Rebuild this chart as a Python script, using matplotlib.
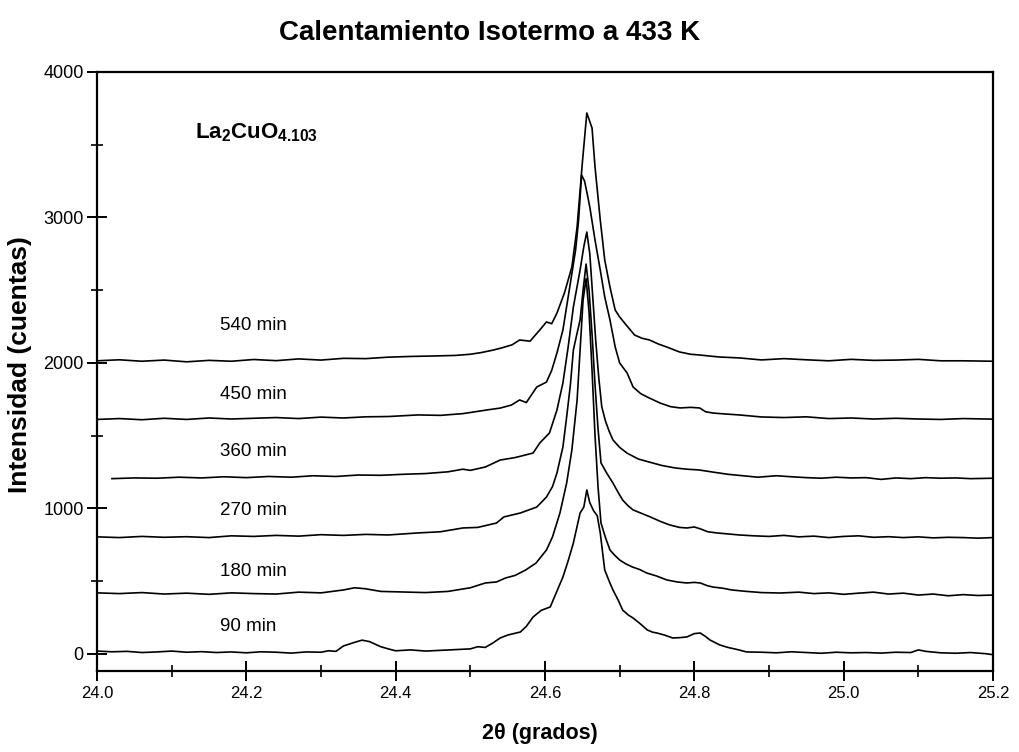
import matplotlib
matplotlib.use('Agg')
import matplotlib.pyplot as plt
from matplotlib.ticker import MultipleLocator, FormatStrFormatter

plt.rcParams['font.family'] = ['Liberation Sans', 'DejaVu Sans']
plt.rcParams['mathtext.fontset'] = 'custom'
plt.rcParams['mathtext.rm'] = 'Liberation Sans'
plt.rcParams['mathtext.bf'] = 'Liberation Sans:bold'

title = "Calentamiento Isotermo a 433 K"
xlabel = "2θ (grados)"
ylabel = "Intensidad (cuentas)"
compound = r"$\mathbf{La_2CuO_{4.103}}$"

series_labels = ["90 min", "180 min", "270 min", "360 min", "450 min", "540 min"]
label_y = [186, 570, 983, 1395, 1780, 2261]

x90 = [24.00, 24.02, 24.04, 24.06, 24.08, 24.10, 24.12, 24.14, 24.16, 24.18, 24.20, 24.22, 24.24, 24.26,
       24.28, 24.30, 24.31, 24.32, 24.33, 24.345, 24.355, 24.365, 24.38, 24.39, 24.40, 24.42, 24.44, 24.46,
       24.48, 24.50, 24.51, 24.52, 24.53, 24.54, 24.55, 24.567, 24.575, 24.584, 24.595, 24.607, 24.615,
       24.624, 24.631, 24.638, 24.647, 24.652, 24.656, 24.660, 24.665, 24.670, 24.674, 24.680, 24.686,
       24.691, 24.698, 24.704, 24.711, 24.718, 24.727, 24.737, 24.744, 24.750, 24.760, 24.771, 24.780,
       24.790, 24.800, 24.808, 24.815, 24.821, 24.834, 24.845, 24.858, 24.870, 24.89, 24.91, 24.93, 24.95,
       24.97, 24.99, 25.01, 25.03, 25.05, 25.07, 25.09, 25.10, 25.11, 25.13, 25.15, 25.17, 25.19, 25.20]
y90 = [20, 15, 18, 10, 14, 20, 12, 16, 10, 14, 8, 15, 12, 6,
       14, 12, 22, 18, 55, 80, 95, 85, 50, 35, 22, 28, 20, 25,
       30, 35, 50, 45, 75, 110, 130, 151, 190, 254, 300, 323, 420,
       529, 640, 763, 969, 1010, 1127, 1040, 985, 950, 832, 577, 500,
       440, 370, 302, 270, 247, 210, 165, 150, 144, 130, 110, 112,
       117, 140, 144, 120, 96, 62, 45, 30, 14, 12, 8, 15, 10,
       5, 12, 8, 10, 6, 12, 10, 28, 18, 8, 5, 10, 2, -5]

x180 = [24.00, 24.03, 24.06, 24.09, 24.12, 24.15, 24.18, 24.21, 24.24, 24.27, 24.30, 24.33, 24.345, 24.36,
        24.38, 24.41, 24.44, 24.47, 24.50, 24.52, 24.535, 24.547, 24.56, 24.574, 24.588, 24.602, 24.610,
        24.620, 24.629, 24.636, 24.643, 24.647, 24.651, 24.655, 24.659, 24.663, 24.667, 24.671, 24.675,
        24.681, 24.687, 24.693, 24.700, 24.708, 24.717, 24.727, 24.736, 24.750, 24.763, 24.777, 24.790,
        24.800, 24.808, 24.817, 24.825, 24.838, 24.850, 24.87, 24.89, 24.915, 24.94, 24.96, 24.98, 25.00,
        25.02, 25.04, 25.06, 25.08, 25.10, 25.12, 25.14, 25.16, 25.18, 25.20]
y180 = [420, 415, 422, 412, 418, 410, 420, 415, 412, 425, 420, 440, 455, 448,
        430, 426, 422, 430, 455, 488, 495, 522, 540, 577, 625, 715, 804,
        969, 1175, 1402, 1746, 2089, 2433, 2580, 2350, 1950, 1500, 1150, 900,
        800, 715, 680, 646, 620, 598, 580, 557, 535, 509, 495, 488,
        492, 488, 470, 460, 452, 440, 430, 422, 419, 425, 415, 420, 410,
        418, 425, 412, 418, 405, 412, 400, 408, 402, 405]

x270 = [24.00, 24.03, 24.06, 24.09, 24.12, 24.15, 24.18, 24.21, 24.24, 24.27, 24.30, 24.33, 24.36, 24.39,
        24.43, 24.46, 24.49, 24.51, 24.535, 24.545, 24.567, 24.589, 24.602, 24.610, 24.616, 24.624, 24.629,
        24.634, 24.638, 24.643, 24.647, 24.651, 24.655, 24.659, 24.663, 24.667, 24.671, 24.675, 24.683,
        24.691, 24.698, 24.704, 24.711, 24.718, 24.730, 24.741, 24.755, 24.767, 24.780, 24.790, 24.800,
        24.808, 24.818, 24.830, 24.845, 24.86, 24.88, 24.90, 24.92, 24.94, 24.96, 24.98, 25.00, 25.02,
        25.04, 25.06, 25.08, 25.10, 25.12, 25.14, 25.16, 25.18, 25.20]
y270 = [805, 800, 808, 802, 806, 800, 812, 808, 815, 810, 820, 815, 822, 818,
        832, 840, 866, 870, 900, 942, 969, 1010, 1079, 1150, 1244, 1423, 1629,
        1850, 2089, 2206, 2296, 2500, 2680, 2500, 2200, 1850, 1550, 1313, 1240,
        1175, 1110, 1058, 1020, 990, 965, 942, 910, 887, 870, 866, 873,
        860, 840, 832, 825, 818, 812, 808, 815, 805, 810, 800, 808, 812,
        802, 806, 800, 805, 798, 802, 800, 796, 800]

x360 = [24.02, 24.05, 24.08, 24.11, 24.14, 24.17, 24.20, 24.23, 24.26, 24.29, 24.32, 24.35, 24.38, 24.41,
        24.44, 24.47, 24.49, 24.50, 24.52, 24.54, 24.56, 24.584, 24.593, 24.606, 24.616, 24.624, 24.631,
        24.638, 24.647, 24.652, 24.656, 24.660, 24.664, 24.668, 24.672, 24.676, 24.681, 24.686, 24.691,
        24.700, 24.710, 24.725, 24.739, 24.757, 24.775, 24.790, 24.806, 24.825, 24.845, 24.865, 24.885,
        24.91, 24.93, 24.95, 24.97, 24.99, 25.01, 25.03, 25.05, 25.07, 25.09, 25.11, 25.13, 25.15, 25.17, 25.20]
y360 = [1205, 1210, 1208, 1215, 1210, 1218, 1212, 1220, 1215, 1225, 1220, 1230, 1228, 1235,
        1240, 1252, 1270, 1262, 1285, 1333, 1350, 1381, 1450, 1519, 1677, 1863, 2110,
        2385, 2639, 2800, 2900, 2750, 2450, 2150, 1900, 1700, 1600, 1530, 1471,
        1420, 1380, 1340, 1320, 1295, 1278, 1270, 1265, 1250, 1235, 1225, 1215,
        1225, 1218, 1212, 1208, 1215, 1210, 1212, 1200, 1210, 1205, 1212, 1208, 1210, 1205, 1208]

x450 = [24.00, 24.03, 24.06, 24.09, 24.12, 24.15, 24.18, 24.21, 24.24, 24.27, 24.30, 24.33, 24.36, 24.39,
        24.43, 24.46, 24.49, 24.522, 24.54, 24.555, 24.566, 24.575, 24.589, 24.602, 24.609, 24.616, 24.624,
        24.634, 24.641, 24.645, 24.649, 24.653, 24.657, 24.660, 24.667, 24.674, 24.680, 24.687, 24.694,
        24.700, 24.710, 24.718, 24.728, 24.737, 24.754, 24.768, 24.781, 24.795, 24.807, 24.815, 24.825,
        24.84, 24.86, 24.89, 24.92, 24.95, 24.98, 25.01, 25.04, 25.07, 25.10, 25.13, 25.16, 25.20]
y450 = [1612, 1618, 1610, 1620, 1612, 1622, 1615, 1620, 1625, 1618, 1628, 1622, 1630, 1632,
        1643, 1640, 1652, 1677, 1690, 1711, 1746, 1728, 1835, 1869, 1950, 2069, 2227,
        2550, 2777, 2983, 3292, 3250, 3150, 3072, 2845, 2639, 2454, 2296, 2110,
        2000, 1931, 1835, 1790, 1766, 1725, 1700, 1691, 1695, 1691, 1665, 1656,
        1650, 1643, 1629, 1625, 1630, 1618, 1622, 1615, 1620, 1615, 1612, 1618, 1614]

x540 = [24.00, 24.03, 24.06, 24.09, 24.12, 24.15, 24.18, 24.21, 24.24, 24.27, 24.30, 24.33, 24.36, 24.39,
        24.42, 24.45, 24.48, 24.50, 24.515, 24.53, 24.543, 24.556, 24.566, 24.580, 24.593, 24.602, 24.609,
        24.616, 24.626, 24.636, 24.643, 24.650, 24.656, 24.663, 24.667, 24.674, 24.680, 24.687, 24.694,
        24.700, 24.711, 24.720, 24.730, 24.740, 24.752, 24.763, 24.780, 24.795, 24.807, 24.82, 24.834,
        24.86, 24.89, 24.92, 24.95, 24.98, 25.01, 25.04, 25.07, 25.10, 25.13, 25.16, 25.20]
y540 = [2015, 2022, 2012, 2020, 2008, 2018, 2012, 2024, 2016, 2028, 2020, 2032, 2030, 2040,
        2045, 2048, 2052, 2060, 2072, 2088, 2105, 2125, 2158, 2150, 2227, 2282, 2270,
        2343, 2481, 2660, 2935, 3375, 3718, 3615, 3347, 2983, 2708, 2522, 2364,
        2316, 2247, 2192, 2170, 2158, 2130, 2110, 2076, 2060, 2055, 2048, 2041,
        2035, 2021, 2030, 2022, 2015, 2025, 2018, 2020, 2025, 2015, 2015, 2012]

xs_all = [x90, x180, x270, x360, x450, x540]
ys_all = [y90, y180, y270, y360, y450, y540]

fig = plt.figure(figsize=(10.19, 7.52), dpi=100)
ax = fig.add_axes([97 / 1019, 1 - 671 / 752, 896 / 1019, 599 / 752])

for xs, ys in zip(xs_all, ys_all):
    ax.plot(xs, ys, color='black', lw=1.2)

for lab, ly in zip(series_labels, label_y):
    ax.text(24.165, ly, lab, fontsize=13.5, va='center', ha='left')

ax.text(24.131, 3581, compound, fontsize=16, va='center', ha='left')

ax.set_xlim(24.0, 25.2)
ax.set_ylim(-117, 4000)
ax.xaxis.set_major_locator(MultipleLocator(0.2))
ax.xaxis.set_minor_locator(MultipleLocator(0.1))
ax.xaxis.set_major_formatter(FormatStrFormatter('%.1f'))
ax.yaxis.set_major_locator(MultipleLocator(1000))
ax.yaxis.set_minor_locator(MultipleLocator(500))

ax.tick_params(axis='both', which='major', direction='inout', length=15, width=1.4, pad=2)
ax.tick_params(axis='both', which='minor', direction='inout', length=9, width=1.2)
ax.tick_params(axis='x', which='major', labelsize=12, pad=3)
ax.tick_params(axis='y', which='major', labelsize=13)

for s in ax.spines.values():
    s.set_linewidth(1.6)

fig.text(490 / 1019, 1 - 33 / 752, title, fontsize=20, fontweight='bold', ha='center', va='center')
fig.text(20 / 1019, 1 - 365 / 752, ylabel, fontsize=19, fontweight='bold', rotation=90,
         ha='center', va='center')
fig.text(540 / 1019, 1 - 733 / 752, xlabel, fontsize=15.5, fontweight='bold', ha='center', va='center')

fig.savefig('out.png', dpi=100)
